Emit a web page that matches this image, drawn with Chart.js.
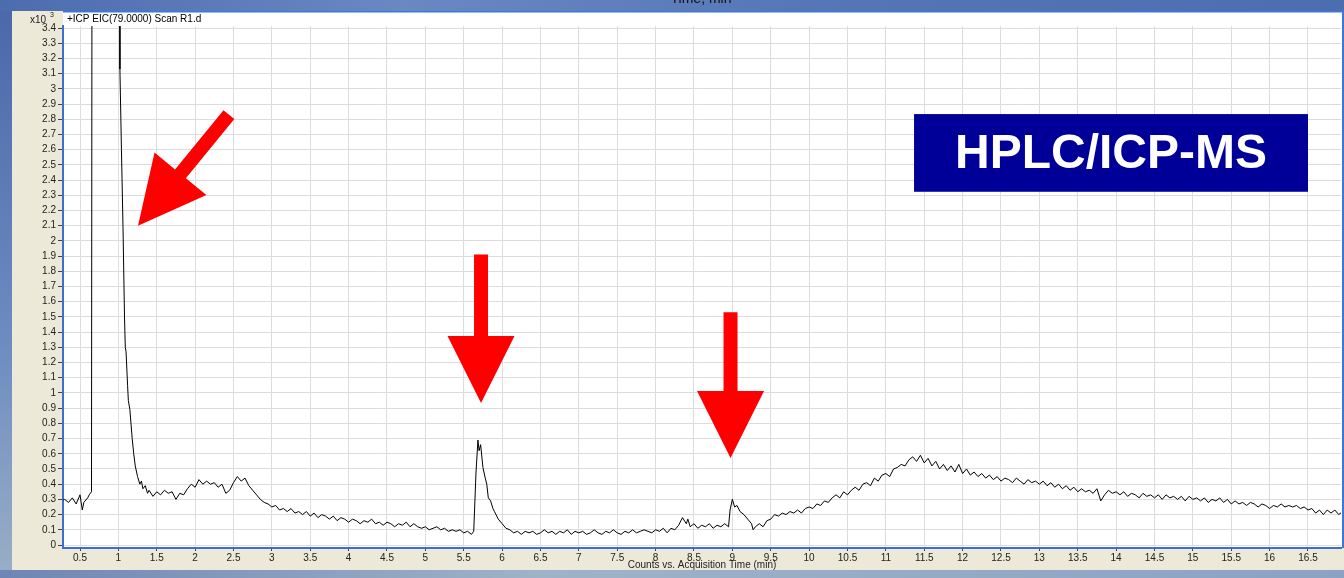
<!DOCTYPE html>
<html><head><meta charset="utf-8">
<script src="https://cdn.jsdelivr.net/npm/chart.js@4.4.1/dist/chart.umd.min.js"></script>
<style>
html,body{margin:0;padding:0;background:#5a78b4;overflow:hidden}
canvas{display:block}
</style></head>
<body>
<canvas id="c" width="1344" height="578"></canvas>
<script>
// ---- data (retention time in min, counts x10^3) ----
const times = [
 0.25,0.30,0.35,0.40,0.45,0.50,0.53,0.55,0.60,0.62,
 0.65,0.665,0.70,0.85,1.00,1.015,1.02,1.04,1.06,1.08,
 1.09,1.10,1.12,1.13,1.15,1.18,1.20,1.22,1.25,1.28,
 1.30,1.32,1.35,1.38,1.40,1.45,1.50,1.55,1.60,1.65,
 1.70,1.75,1.80,1.85,1.90,1.95,2.00,2.05,2.10,2.15,
 2.20,2.25,2.30,2.35,2.40,2.45,2.50,2.55,2.60,2.65,
 2.70,2.75,2.80,2.85,2.90,2.95,3.00,3.05,3.10,3.15,
 3.20,3.25,3.30,3.35,3.40,3.45,3.50,3.55,3.60,3.65,
 3.70,3.75,3.80,3.85,3.90,3.95,4.00,4.05,4.10,4.15,
 4.20,4.25,4.30,4.35,4.40,4.45,4.50,4.55,4.60,4.65,
 4.70,4.75,4.80,4.85,4.90,4.95,5.00,5.05,5.10,5.15,
 5.20,5.25,5.30,5.35,5.40,5.45,5.50,5.55,5.60,5.63,
 5.66,5.685,5.70,5.72,5.75,5.78,5.80,5.82,5.85,5.88,
 5.90,5.95,6.00,6.05,6.10,6.15,6.20,6.25,6.30,6.35,
 6.40,6.45,6.50,6.55,6.60,6.65,6.70,6.75,6.80,6.85,
 6.90,6.95,7.00,7.05,7.10,7.15,7.20,7.25,7.30,7.35,
 7.40,7.45,7.50,7.55,7.60,7.65,7.70,7.75,7.80,7.85,
 7.90,7.95,8.00,8.05,8.10,8.15,8.20,8.25,8.30,8.35,
 8.40,8.42,8.45,8.50,8.55,8.60,8.65,8.70,8.75,8.80,
 8.85,8.90,8.95,8.97,9.00,9.03,9.06,9.10,9.15,9.20,
 9.25,9.27,9.30,9.35,9.40,9.45,9.50,9.55,9.60,9.65,
 9.70,9.75,9.80,9.85,9.90,9.95,10.00,10.05,10.10,10.15,
 10.20,10.25,10.30,10.35,10.40,10.45,10.50,10.55,10.60,10.65,
 10.70,10.75,10.80,10.85,10.90,10.95,11.00,11.05,11.10,11.15,
 11.20,11.25,11.30,11.35,11.40,11.45,11.50,11.55,11.60,11.65,
 11.70,11.75,11.80,11.85,11.90,11.95,12.00,12.05,12.10,12.15,
 12.20,12.25,12.30,12.35,12.40,12.45,12.50,12.55,12.60,12.65,
 12.70,12.75,12.80,12.85,12.90,12.95,13.00,13.05,13.10,13.15,
 13.20,13.25,13.30,13.35,13.40,13.45,13.50,13.55,13.60,13.65,
 13.70,13.75,13.80,13.85,13.90,13.95,14.00,14.05,14.10,14.15,
 14.20,14.25,14.30,14.35,14.40,14.45,14.50,14.55,14.60,14.65,
 14.70,14.75,14.80,14.85,14.90,14.95,15.00,15.05,15.10,15.15,
 15.20,15.25,15.30,15.35,15.40,15.45,15.50,15.55,15.60,15.65,
 15.70,15.75,15.80,15.85,15.90,15.95,16.00,16.05,16.10,16.15,
 16.20,16.25,16.30,16.35,16.40,16.45,16.50,16.55,16.60,16.65,
 16.70,16.75,16.80,16.85,16.90,16.95
];
const counts = [
 0.29,0.30,0.28,0.31,0.27,0.33,0.23,0.28,0.31,0.33,
 0.35,9.0,12.0,14.0,9.0,4.0,3.13,2.6,2.1,1.5,
 1.30,1.27,1.05,0.95,0.89,0.70,0.60,0.52,0.45,0.40,
 0.42,0.37,0.39,0.34,0.36,0.32,0.35,0.33,0.36,0.34,
 0.35,0.30,0.34,0.33,0.37,0.40,0.38,0.43,0.40,0.42,
 0.40,0.41,0.38,0.40,0.34,0.36,0.41,0.45,0.42,0.44,
 0.39,0.36,0.33,0.30,0.28,0.27,0.25,0.26,0.23,0.24,
 0.22,0.24,0.21,0.22,0.20,0.22,0.19,0.21,0.18,0.20,
 0.19,0.17,0.19,0.16,0.18,0.17,0.15,0.17,0.16,0.14,
 0.16,0.15,0.17,0.14,0.15,0.13,0.15,0.14,0.12,0.14,
 0.13,0.15,0.12,0.14,0.12,0.11,0.12,0.10,0.11,0.12,
 0.10,0.11,0.09,0.10,0.09,0.10,0.08,0.09,0.07,0.09,
 0.48,0.69,0.62,0.66,0.51,0.44,0.40,0.31,0.29,0.24,
 0.22,0.17,0.14,0.11,0.10,0.08,0.09,0.07,0.09,0.08,
 0.09,0.07,0.08,0.10,0.08,0.09,0.07,0.09,0.08,0.10,
 0.07,0.09,0.08,0.09,0.07,0.08,0.10,0.08,0.07,0.09,
 0.08,0.10,0.08,0.07,0.09,0.08,0.10,0.08,0.09,0.10,
 0.09,0.08,0.10,0.09,0.11,0.08,0.11,0.10,0.13,0.18,
 0.14,0.17,0.12,0.14,0.11,0.13,0.12,0.14,0.11,0.13,
 0.12,0.14,0.12,0.23,0.30,0.25,0.26,0.22,0.20,0.17,
 0.14,0.10,0.12,0.14,0.12,0.16,0.17,0.20,0.19,0.21,
 0.20,0.22,0.21,0.23,0.21,0.24,0.25,0.24,0.27,0.26,
 0.29,0.28,0.31,0.33,0.31,0.35,0.33,0.36,0.38,0.36,
 0.40,0.41,0.39,0.44,0.42,0.46,0.47,0.45,0.50,0.51,
 0.53,0.52,0.56,0.58,0.55,0.59,0.54,0.57,0.52,0.55,
 0.50,0.53,0.49,0.52,0.48,0.53,0.47,0.50,0.46,0.48,
 0.45,0.47,0.44,0.46,0.43,0.45,0.42,0.44,0.43,0.41,
 0.44,0.42,0.40,0.43,0.41,0.42,0.40,0.42,0.39,0.41,
 0.38,0.40,0.37,0.39,0.36,0.38,0.35,0.37,0.35,0.36,
 0.34,0.37,0.29,0.33,0.36,0.34,0.35,0.33,0.35,0.32,
 0.34,0.33,0.31,0.34,0.32,0.33,0.31,0.33,0.30,0.33,
 0.31,0.32,0.30,0.32,0.29,0.32,0.30,0.31,0.29,0.31,
 0.28,0.30,0.29,0.31,0.28,0.30,0.27,0.29,0.27,0.28,
 0.26,0.28,0.27,0.25,0.27,0.26,0.24,0.26,0.25,0.27,
 0.25,0.26,0.25,0.26,0.24,0.25,0.23,0.24,0.21,0.23,
 0.20,0.23,0.21,0.23,0.20,0.22
];
const xTicks = [0.5,1,1.5,2,2.5,3,3.5,4,4.5,5,5.5,6,6.5,7,7.5,8,8.5,9,9.5,10,10.5,11,11.5,12,12.5,13,13.5,14,14.5,15,15.5,16,16.5];
const yTicks = [0,0.1,0.2,0.3,0.4,0.5,0.6,0.7,0.8,0.9,1,1.1,1.2,1.3,1.4,1.5,1.6,1.7,1.8,1.9,2,2.1,2.2,2.3,2.4,2.5,2.6,2.7,2.8,2.9,3,3.1,3.2,3.3,3.4];
const xRange = [0.2785, 16.930];
const yRange = [-0.0197, 3.4132];
const plotTitle = '+ICP EIC(79.0000) Scan R1.d';
const xTitle = 'Counts vs. Acquisition Time (min)';
const yExponent = ['x10', '3'];
const windowCaption = 'Time, min';
const labelText = 'HPLC/ICP-MS';
// annotations in data units: [tailTime, tailValue, tipTime, tipValue]
const arrows = [
  [2.44, 2.83, 1.256, 2.10],
  [5.725, 1.91, 5.725, 0.934],
  [8.976, 1.53, 8.976, 0.572]
];
const labelBox = [11.367, 2.834, 16.50, 2.323];

const FONT = "'Liberation Sans', Arial, sans-serif";

function drawArrow(ctx, x1, y1, x2, y2, sw, hw, hl) {
  const dx = x2 - x1, dy = y2 - y1, L = Math.hypot(dx, dy);
  const ux = dx / L, uy = dy / L, px = -uy, py = ux;
  const bx = x2 - ux * hl, by = y2 - uy * hl;
  ctx.beginPath();
  ctx.moveTo(x1 + px * sw / 2, y1 + py * sw / 2);
  ctx.lineTo(bx + px * sw / 2, by + py * sw / 2);
  ctx.lineTo(bx + px * hw / 2, by + py * hw / 2);
  ctx.lineTo(x2, y2);
  ctx.lineTo(bx - px * hw / 2, by - py * hw / 2);
  ctx.lineTo(bx - px * sw / 2, by - py * sw / 2);
  ctx.lineTo(x1 - px * sw / 2, y1 - py * sw / 2);
  ctx.closePath();
  ctx.fill();
}

const backdrop = {
  id: 'backdrop',
  beforeDraw(chart) {
    const ctx = chart.ctx, W = chart.width, H = chart.height;
    const a = chart.chartArea;
    ctx.save();
    let g = ctx.createLinearGradient(0, 0, W, 0);
    g.addColorStop(0, '#4d6cae'); g.addColorStop(0.3, '#6a88c2');
    g.addColorStop(0.6, '#5676b6'); g.addColorStop(1, '#4c6db0');
    ctx.fillStyle = g; ctx.fillRect(0, 0, W, H);
    let g2 = ctx.createLinearGradient(0, 0, W, 0);
    g2.addColorStop(0, '#6f86b4'); g2.addColorStop(0.4, '#9fb2c8'); g2.addColorStop(1, '#8ba2c4');
    ctx.fillStyle = g2; ctx.fillRect(0, 570, W, H - 570);
    let g3 = ctx.createLinearGradient(0, 0, 0, H);
    g3.addColorStop(0, '#4a68aa'); g3.addColorStop(0.6, '#6d8cc0'); g3.addColorStop(1, '#9aaec6');
    ctx.fillStyle = g3; ctx.fillRect(0, 11, 12, 559);
    ctx.fillStyle = '#ECE9D8'; ctx.fillRect(12, 11, W - 12, 559);
    ctx.fillStyle = '#ffffff'; ctx.fillRect(a.left, 12, W - a.left, a.bottom - 12);
    ctx.fillStyle = '#3c78dc';
    ctx.fillRect(a.left, 11, W - a.left, 1.5);
    ctx.fillRect(a.right + 1, 11, 2, a.bottom - 11);
    // window caption (cut at top)
    ctx.fillStyle = '#111';
    ctx.font = '14px ' + FONT;
    ctx.textAlign = 'center'; ctx.textBaseline = 'alphabetic';
    ctx.fillText(windowCaption, 701, 3);
    // plot title
    ctx.font = '10px ' + FONT;
    ctx.textAlign = 'left'; ctx.textBaseline = 'middle';
    ctx.fillStyle = '#000';
    ctx.fillText(plotTitle, a.left + 4, 19);
    // exponent label
    ctx.fillStyle = '#222';
    ctx.font = '10px ' + FONT;
    ctx.fillText(yExponent[0], 30, 20);
    ctx.font = '7px ' + FONT;
    ctx.fillText(yExponent[1], 50, 15);
    ctx.restore();
  },
  afterDraw(chart) {
    const ctx = chart.ctx, xs = chart.scales.x, ys = chart.scales.y;
    ctx.save();
    // label box
    const bx1 = xs.getPixelForValue(labelBox[0]), by1 = ys.getPixelForValue(labelBox[1]);
    const bx2 = xs.getPixelForValue(labelBox[2]), by2 = ys.getPixelForValue(labelBox[3]);
    ctx.fillStyle = '#000099';
    ctx.fillRect(bx1, by1, bx2 - bx1, by2 - by1);
    ctx.fillStyle = '#ffffff';
    ctx.font = 'bold 48px ' + FONT;
    ctx.textAlign = 'center'; ctx.textBaseline = 'middle';
    ctx.fillText(labelText, (bx1 + bx2) / 2, (by1 + by2) / 2 + 2);
    // arrows
    ctx.fillStyle = '#ff0000';
    arrows.forEach(r => {
      drawArrow(ctx, xs.getPixelForValue(r[0]), ys.getPixelForValue(r[1]),
        xs.getPixelForValue(r[2]), ys.getPixelForValue(r[3]), 14, 67, 67);
    });
    ctx.restore();
  }
};

const points = times.map((t, i) => ({ x: t, y: counts[i] }));
const fmt = v => String(Math.round(v * 10) / 10);

new Chart(document.getElementById('c'), {
  type: 'line',
  data: { datasets: [{ data: points, borderColor: '#000', borderWidth: 1, pointRadius: 0, tension: 0, fill: false }] },
  options: {
    responsive: false, animation: false, devicePixelRatio: 1,
    layout: { padding: { top: 26, right: 3, left: 0, bottom: 0 } },
    plugins: { legend: { display: false }, tooltip: { enabled: false } },
    scales: {
      x: {
        type: 'linear', min: xRange[0], max: xRange[1],
        afterBuildTicks: s => { s.ticks = xTicks.map(v => ({ value: v })); },
        afterFit: s => { s.height = 30; },
        grid: { color: '#dcdcdc', lineWidth: 1, tickColor: '#444', tickLength: 3 },
        border: { display: true, color: '#3c6fd0', width: 2 },
        ticks: { font: { family: FONT, size: 10 }, color: '#222', padding: 1, maxRotation: 0, autoSkip: false, callback: v => fmt(v) },
        title: { display: true, text: xTitle, font: { family: FONT, size: 10 }, color: '#222', padding: { top: 0, bottom: 7 } }
      },
      y: {
        type: 'linear', min: yRange[0], max: yRange[1],
        afterBuildTicks: s => { s.ticks = yTicks.map(v => ({ value: v })); },
        afterFit: s => { s.width = 63; },
        grid: { color: '#dcdcdc', lineWidth: 1, tickColor: '#444', tickLength: 5 },
        border: { display: true, color: '#3c6fd0', width: 2 },
        ticks: { font: { family: FONT, size: 10 }, color: '#222', padding: 2, autoSkip: false, callback: v => fmt(v) }
      }
    }
  },
  plugins: [backdrop]
});
</script>
</body></html>
